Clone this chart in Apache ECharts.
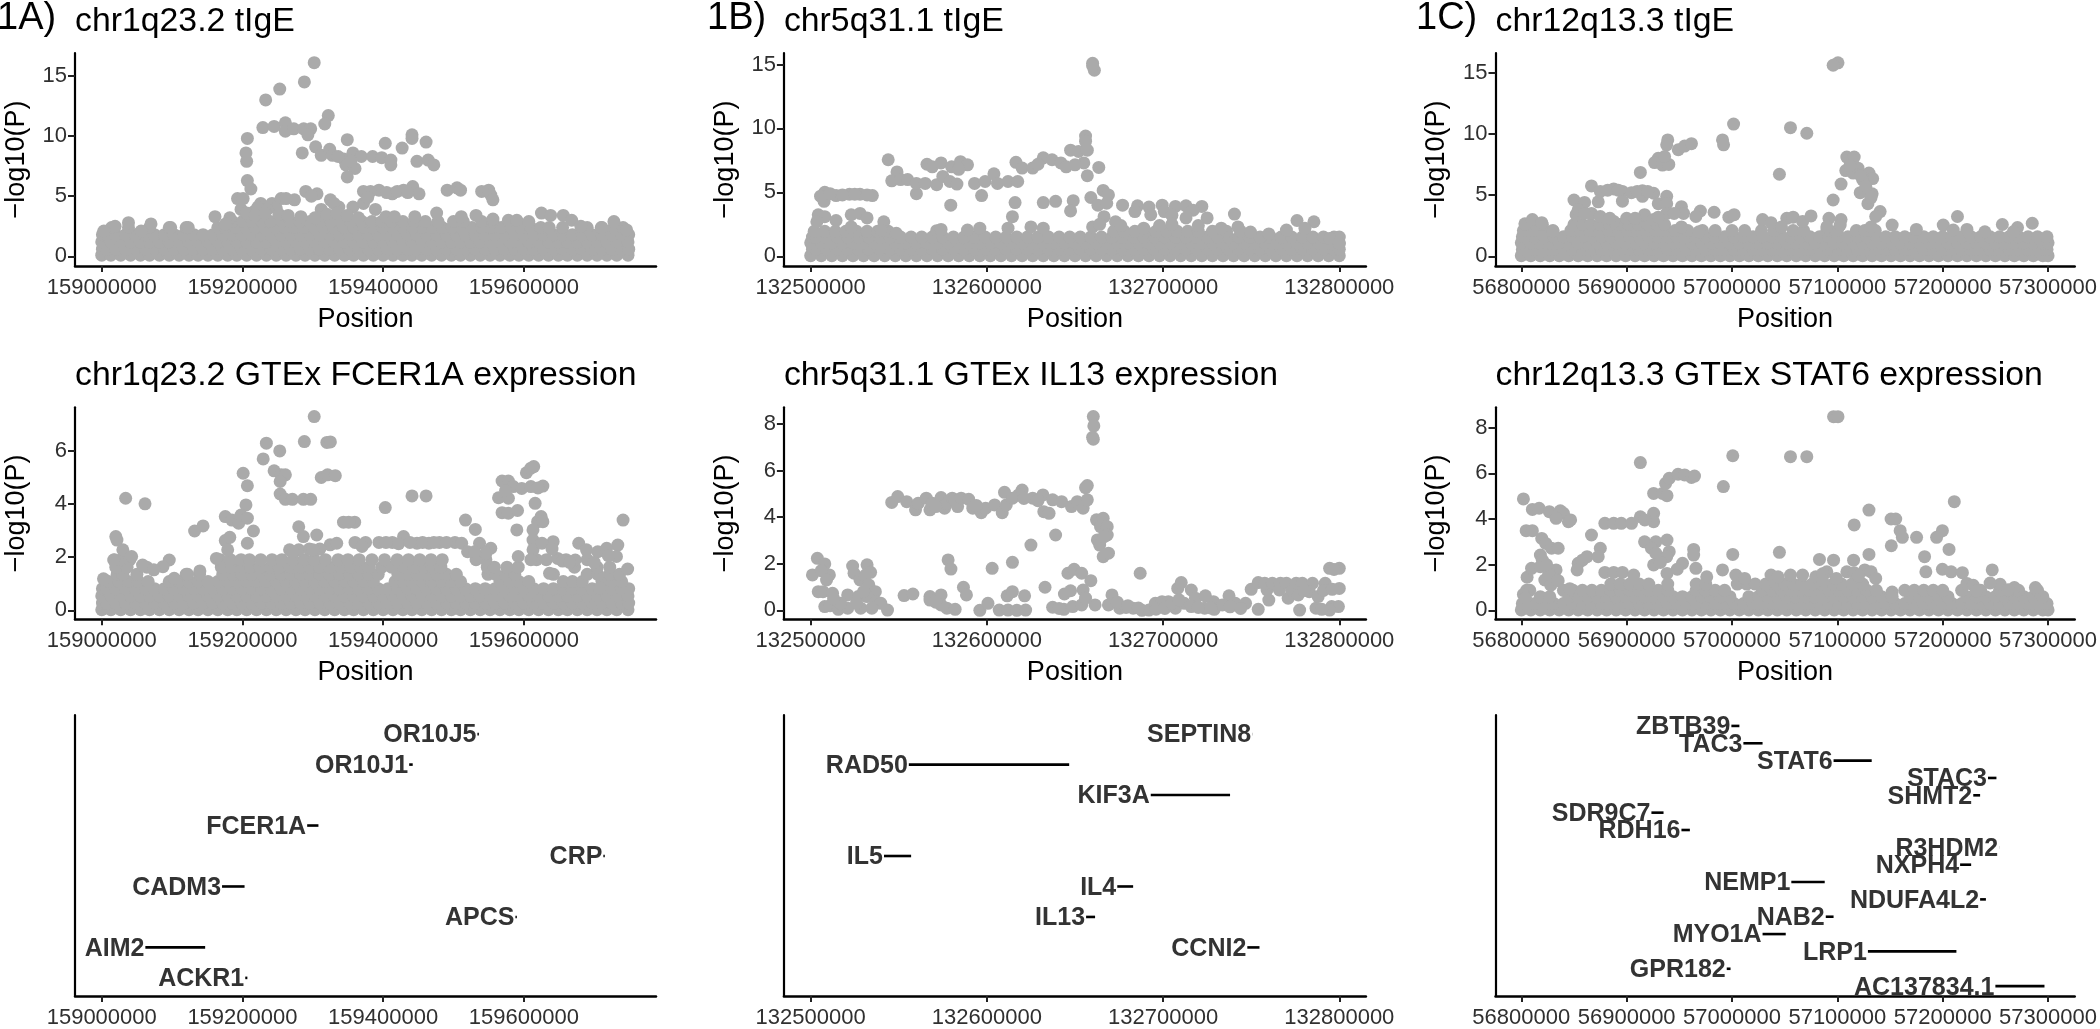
<!DOCTYPE html>
<html>
<head>
<meta charset="utf-8">
<script src="https://cdn.jsdelivr.net/npm/echarts@6/dist/echarts.min.js"></script>
<style>
html,body{margin:0;padding:0;background:#fff;overflow:hidden;}
#main{width:2100px;height:1029px;}
</style>
</head>
<body>
<div id="main"></div>
<script>
// positions are kb from the start of each window
var startA=159000, startB=132500, startC=56800;

var ticksA=[159000000,159200000,159400000,159600000];
var ticksB=[132500000,132600000,132700000,132800000];
var ticksC=[56800000,56900000,57000000,57100000,57200000,57300000];
var ticksY1A=[0,5,10,15], ticksY1B=[0,5,10,15], ticksY1C=[0,5,10,15];
var ticksY2A=[0,2,4,6], ticksY2B=[0,2,4,6,8], ticksY2C=[0,2,4,6,8];

var titles=["chr1q23.2 tIgE","chr5q31.1 tIgE","chr12q13.3 tIgE",
    "chr1q23.2 GTEx FCER1A expression","chr5q31.1 GTEx IL13 expression","chr12q13.3 GTEx STAT6 expression"];
var panelTags=["1A)","1B)","1C)"];

// the solid bands near zero, points there overlap too much to read one by one
var rowA1=[0,13,27,41,55,68,82,96,110,124,137,151,165,179,192,206,220,234,248,262,276,289,303,317,331,345,358,372,386,400,414,428,441,455,469,483,497,510,524,538,552,566,580,593,607,621,635,649,662,676,690,704,718,732,748];
var rowA2=[1,7,20,34,48,62,75,89,103,117,131,144,158,172,186,199,213,227,241,255,269,283,296,310,324,338,352,365,379,393,407,421,435,448,462,476,490,504,517,531,545,559,573,587,600,614,628,642,656,669,683,697,711,725,739,749];
var rowB1=[0,6,12,18,24,30,36,42,48,54,60,66,72,78,84,90,96,102,108,114,120,126,132,138,144,150,156,162,168,174,180,186,192,198,204,210,216,222,228,234,240,246,252,258,264,270,276,282,288,294,300];
var rowB2=[1,3,9,15,21,27,33,39,45,51,57,63,69,75,81,87,93,99,105,111,117,123,129,135,141,147,153,159,165,171,177,183,189,195,201,207,213,219,225,231,237,243,249,255,261,267,273,279,285,291,297,300];
var rowC1=[0,9,18,27,36,45,54,63,72,81,90,99,108,117,126,135,144,153,162,171,180,189,198,207,216,225,234,243,252,261,270,279,288,297,306,315,324,333,342,351,360,369,378,387,396,405,414,423,432,441,450,459,468,477,486,495,500];
var rowC2=[1,4,13,22,31,40,49,58,67,76,85,94,103,112,121,130,139,148,157,166,175,184,193,202,211,220,229,238,247,256,265,274,283,292,301,310,319,328,337,346,355,364,373,382,391,400,409,418,427,436,445,454,463,472,481,490,499];

var bandIgeA=[[0.1,rowA1],[0.6,rowA2],[1.2,rowA1],[1.8,rowA2],
    [2.4,[14,38,68,96,120,165,175,190,205,218,232,246,260,274,288,302,316,330,344,358,372,386,400,414,428,442,456,470,484,498,512,526,540,554,568,582,596,610,624,636,655,690,710,728,741]],
    [2.9,[186,200,214,228,240,256,268,282,296,310,326,340,354,370,384,398,412,428,444,460,478,500,514,540,556]]];
var bandIgeB=[[0.05,rowB1],[0.55,rowB2],[1.05,rowB1],[1.5,rowB2],
    [1.95,[2,8,14,20,26,32,38,44,172,178,184,190,196,202,208,214,220,228,236,244]]];
var bandIgeC=[[0.05,rowC1],[0.55,rowC2],[1.1,rowC1],[1.6,rowC2],
    [2.1,[2,12,22,30,47,56,65,74,83,92,101,110,119,128,137,146,158,172,184,200,212,228,240,258,268,290,300,318,326,336]],
    [2.6,[4,14,20,50,58,66,75,84,93,102,111,120,129,136]]];

var bandExprA=[[0.02,rowA1],[0.27,rowA2],[0.54,rowA1],[0.81,rowA2],
    [1.08,[10,24,38,52,66,96,110,124,137,151,165,179,192,206,220,234,248,262,276,289,303,317,331,345,358,372,386,417,428,441,455,469,483,497,510,566,580,593,607,656,669,683,711,725,739]],
    [1.35,[22,30,50,120,139,172,186,199,213,227,241,255,269,283,296,310,324,338,352,365,379,393,421,435,448,462,476,490,504,549,560,575,587,642,690,705,722,736]],
    [1.62,[20,36,64,170,185,200,212,225,240,252,268,282,296,310,324,340,354,368,380,398,412,430,444,458,470,482,548,558,576,592,672,704,722]],
    [1.9,[18,28,40,168,183,198,210,226,242,256,272,288,302,318,336,350,366,384,402,420,436,452,468,484,532,546,618,632,660,690]]];
var bandExprC=[[0.02,rowC1],[0.3,rowC2],
    [0.6,[18,27,45,54,63,72,81,90,99,108,117,126,135,144,153,162,171,180,189,198,216,225,234,243,252,261,270,279,288,297,306,315,324,333,342,351,369,378,387,396,405,423,432,441,450,459,468,477,486,495]],
    [0.88,[5,8,40,49,58,67,76,85,94,103,112,121,130,139,166,175,184,193,229,238,247,256,265,274,283,292,301,310,319,328,337,364,373,382,391,400,418,436,454,463,472,490]],
    [1.15,[85,94,103,112,121,139,166,175,205,214,222,232,242,250,258,266,276,286,296,304,314,324]]];

var igeA=[[302,16.1],[288,14.5],[253,13.9],[233,13],[322,11.7],[317,11],[229,10.7],[245,10.8],[261,11.1],[261,10.4],[273,10.6],[287,10.6],[297,10.6],[293,10.1],[207,9.8],[205,8.6],[206,7.9],[207,6.3],[212,5.6],
[349,9.7],[403,9.4],[427,9],[441,10.1],[441,9.8],[461,9.5],[285,8.6],[304,9.1],[312,8.4],[324,8.9],[328,8.4],[344,8.1],[357,8.6],[347,7.6],[360,7.3],[349,6.6],[369,8.3],[385,8.3],[398,8.2],[411,8],[411,7.6],[448,7.9],[464,8],[472,7.6],[336,8.3],[354,7.9],
[491,5.5],[505,5.7],[510,5.5],[540,5.4],[550,5.5],[553,5.1],[556,4.7],
[193,4.8],[201,4.8],[198,3.9],[226,4.4],[242,4.4],[255,4.8],[274,4.7],[290,5.4],[306,5.2],[325,4.7],[312,3.9],[337,4.1],[357,4.1],[372,4.4],[372,5.4],[394,5.5],[413,5.2],[429,5.5],[442,5.8],[451,5.2],[389,3.9],[262,4.8],[298,5],[330,4.4],[382,5.4],[405,5.3],[420,5.4],[435,5.3],[378,4.9],[248,4],[235,3.9],[216,3.7],[206,3.6],[252,3.5],[222,4.1],
[161,3.3],[182,3.2],[38,2.8],[19,2.5],[3,2.1],[70,2.7],[98,2.4],[123,2.4],[56,2.1],[176,2.7],
[218,3.4],[232,3.6],[265,3.4],[283,3.3],[303,3.2],[320,3.5],[334,3.6],[349,3.4],[365,3.2],[404,3.3],[416,3.3],[445,3.3],[476,3.6],[511,3.3],[532,3.4],[556,3.1],[578,3],[590,3],[607,2.9],[625,3.6],[638,3.4],[656,3.4],[668,3],[681,2.5],[728,2.9],[711,2.4],[746,2.2]];

var igeB=[[160,15.1],[161,14.55],[160,14.9],[156,9.4],[156,9],[147.5,8.3],[152,8.2],[157,8.3],
[44,7.55],[49,6.6],[46,5.9],[51,6],[55,6],[60,4.9],[60,5.7],[66,7.2],[69,7],[74,7.3],[65,5.7],[71.5,5.6],[75,6.25],[79,5.85],[83,5.65],[80,7],[85,7.4],[89,7.15],[84,6.8],[79.5,4],[93,5.7],[99,5.85],[104,6.45],[106,5.7],[112,5.85],[117.5,5.85],[116.5,7.35],[120,6.9],[126,6.9],[132,7.7],[137,7.55],[142,7.3],[145,7],[155,7.3],[150,7.15],[157,6.3],[163.5,6.95],[129,7.2],[97,4.75],[116,4.2],[132,4.2],[139,4.3],[149,4.35],[147.5,3.55],[114.5,3.1],
[159,4.6],[166,5.15],[169,4.8],[163,4],[168,4.15],[177,4],[185.5,3.95],[184,3.5],[192,3.85],[199.5,4],[200.7,3.5],[207,3.9],[213,3.95],[222,3.9],[225,3],[193,3.25],[240.5,3.3],[242.5,2.3],[166.5,3.1],[173,2.7],[160,2.3],[164,2.5],[217,3.6],[205,3.2],[213,3],
[8,5],[5.6,4.7],[7.6,4.3],[14.4,4.75],[22,4.85],[28,4.85],[35,4.75],[11,4.9],[18,4.8],[25,4.85],[32,4.8],
[4.3,3.25],[8,3.1],[3.5,2.7],[14.4,2.8],[23,3.25],[28,3.35],[32,3],[23,2.3],[41.5,2.7],[40,2.05],[48.6,1.8],[71.5,2],[74,2.1],[89,2.05],[96,2.2],[112,2.2],[125,2.3],[132,2.2],[233,2.2],[249.6,1.9],[260,1.75],[270,2.05],[276,2.8],[285.6,2.7],[280.5,2.2],[294.5,1.4],[300,1],[176,2.4],[189,2.2],[198,2.4],[205,2.5],[220,2.4]];

var igeC=[[300.6,15.8],[296,15.6],[201.5,10.8],[255.5,10.5],[271,10.05],[191,9.5],[192,9.1],[245,6.7],[113,6.85],
[139,9.5],[138,9.1],[149,8.7],[155,9],[161.5,9.2],[130,8],[126.5,7.65],[134,7.45],[140,7.5],[136,8.15],
[66.6,5.75],[50,4.6],[60,4.4],[73,4.45],[75,5.3],[87.7,5.5],[96,5.3],[104.5,5.2],[115,5.35],[125.6,5.15],[115,4.9],[96,4.5],[138,4.9],[130,4.3],[138,4.3],[82,5.4],[92,5.4],[110,5.3],[120,5.3],
[152,4.05],[154,3.5],[170,3.7],[165.7,3.25],[183,3.6],[197,3.2],[202,3.4],[229,3],[237,2.75],[252,3.1],[258,3.2],[267,2.85],[275,3.3],[247,2.4],[292,3.1],[303.5,3],[290,2.4],[302.7,2.55],
[296,4.6],[303.5,5.9],[308,7],[309,8.1],[316,8.1],[319.6,7.2],[315,6.8],[330,6.8],[333.5,6.35],[324,6.25],[321.7,5.2],[333,5.1],[329,4.3],[340.6,3.65],[336.4,3.25],[332,2.4],[352,2.55],[312,7.4],[322,6.6],[327,5.7],[332,4.8],
[400.5,2.55],[414,3.25],[375,2.2],[423,2.2],[440,2],[456.6,2.6],[471,2.35],[467,2],[485,2.7],[410,2.15],
[3.4,2.65],[10.5,3],[19.4,2.75],[30,2.05],[52,3.4],[54,3.8],[66.6,3.5],[75,3.25],[87.7,2.85],[100,3.1],[117,3.4],[138,3.5],[125.6,3],[152,2.4],[168.6,2],[60,3.5],[84,3.1],[108,3.1],[130,3.2],[145,3.5]];

var exprA=[[302,7.28],[288,6.34],[234,6.28],[253,5.99],[320,6.31],[325,6.33],[229.5,5.69],[245,5.24],[255,5.09],[261,5.09],[253.6,4.84],[201,5.15],[207,4.68],[312,4.99],[321,5.09],[332,5.06],[253.6,4.37],[261,4.17],[271,4.17],[286.6,4.17],[297,4.17],
[34,4.21],[61.5,4],[403,3.86],[441,4.3],[461,4.3],[205,3.96],[175.6,3.52],[185,3.39],[194.6,3.27],[198,3.58],[207,3.46],[215.6,2.98],[132,2.98],[144,3.17],
[280,3.14],[286.6,2.77],[305.6,2.83],[343.6,3.31],[359.5,3.31],[351,3.31],[324.6,2.46],[334,2.52],[175.6,2.62],[182,2.74],[179,2.27],[163,1.95],[207,2.52],
[20,2.77],[21.6,2.64],[17,1.89],[30,2.27],[42.5,2.02],[58,1.7],[96,1.89],[87,1.64],[74,1.52],[2.5,1.18],[103,1.2],[122,1.35],[139.5,1.48],
[517,3.39],[531,3.04],[569,4.86],[578,4.86],[564,4.23],[569,3.67],[578,3.65],[591,3.75],[590,3.02],[592,2.02],[578,4.21],[585,4.65],[597,4.58],[610,4.65],[627,4.67],[603.6,5.17],[610,5.34],[614,5.4],[616,4.02],[620,4.6],[574,4.5],
[624.5,3.52],[619.5,3.33],[627,3.33],[613,3.02],[613,2.64],[613,2.27],[641.6,2.58],[625.8,2.52],[678,2.52],[689,2.27],[705,2.2],[733.5,2.45],[717.7,2.33],[741,3.39],[731.6,2.02],[747.5,1.55],[636.5,1.39],[648,1.95],[673,1.89],[708,0.83],
[360,2.55],[375,2.55],[394,2.55],[413,2.55],[429,2.77],[448,2.52],[465,2.52],[480,2.55],[502,2.55],[511.6,2.52],[537,2.52],[553,2.33],[546,2.14],[370,2.4],[404,2.55],[422,2.5],[438,2.55],[456,2.55],[472,2.55],[490,2.55],
[267,2.27],[280,2.27],[295,2.3],[310,2.3],[272,2.2],[300,2.27],[520,2.2],[530,2.2],[610,1.9],[640,2.3],[655,1.85],[665,1.8],[700,1.8],[720,2.05]];

var exprB=[[160.4,8.31],[160.7,7.91],[160,7.42],[160.4,7.34],[157,5.35],[156,5.26],[110,5.06],[120,5.16],[118,4.95],
[46,4.63],[49.4,4.88],[54.5,4.66],[59.5,4.31],[61,4.59],[65.6,4.81],[67.7,4.31],[69,4.59],[74,4.84],[76,4.38],[77.3,4.59],[80.3,4.81],[83.4,4.45],[81.6,4.74],[85.4,4.81],[89.7,4.76],[92,4.38],[96.8,4.19],[99.3,4.38],[104.4,4.52],[108.7,4.19],[111,4.52],[114.5,4.81],[126,4.81],[131.8,4.95],[132.3,4.23],[135.3,4.16],[137.3,4.74],[142.4,4.66],[148,4.45],[151.3,4.66],[154.6,4.38],[157,4.74],[121,4.8],[129,4.7],[94,4.5],[71,4.45],
[162.2,3.88],[166,3.95],[164.5,3.59],[168.3,3.59],[162.7,3.02],[168.3,3.23],[164,2.8],[166,2.3],[169,2.45],[166.5,3.16],
[139,3.23],[125,2.8],[114.5,2.06],[103,1.8],[78,2.16],[79.6,1.77],
[3.8,2.23],[8,1.99],[1,1.52],[10.6,1.52],[4.3,0.8],[6,1.7],[9,1.3],[7,0.8],[12.4,0.73],[8,0.16],[11,0.2],[15.7,0.04],[23.8,1.9],[32,1.95],[24.6,1.59],[34,1.63],[28,1.3],[31,1.5],[33,1.09],[36.7,0.8],[21,0.66],[27,0.59],[32,0.59],[37,0.37],[43.6,0.01],[39.8,0.3],[21,0.09],[28.4,0.09],[34.7,0.09],[30,0.8],[26,0.3],[17,0.3],[13,0.5],
[53,0.63],[58,0.7],[67.7,0.59],[74,0.66],[67.7,0.44],[77.3,0.09],[82,0.04],[74,0.23],[71,0.35],
[86.7,0.99],[88.4,0.66],[96,0],[100.6,0.3],[107,0.01],[112,0.01],[111.5,0.62],[114.5,0.8],[121.4,0.62],[117,0],[122,0.01],
[133,0.99],[137.3,0.13],[143.7,0.04],[144,0.7],[147.5,0.84],[146,1.59],[149.5,1.76],[153.8,1.59],[159,1.27],[154.6,0.87],[148.7,0.16],[153.8,0.23],[161.4,0.23],[156,0.52],[141,0.08],
[171,0.66],[169,0.23],[175.4,0.09],[179,0.12],[183,0.09],[187,1.59],[188,0],[192,0.01],[195.6,0.3],[199.4,0.37],[203,0.37],[207,0.09],[208.3,0.94],[210.3,1.19],[216,0.87],[218.4,0.52],[224,0.62],[228.6,0.37],[212,0.3],[216,0.16],[223.6,0.09],[229,0.04],[237.4,0.62],[233.6,0.23],[241,0.3],[246.8,0.3],[254,0.04],[174,0.35],[180,0.2],[186,0.1],[196,0.05],[201,0.08],[205,0.3],[209,0.45],[220,0.12],[227,0.1],[238,0.15],[244,0.08],
[250,0.9],[254,1.19],[260,0.44],[259,0.87],[257.7,1.16],[262,1.16],[266.6,1.16],[271,0.52],[266,0.87],[270,1.16],[273,0.85],[277.5,0.01],[276.7,0.66],[275.5,1.16],[279,1.16],[286.8,0.09],[284.8,1.16],[292,1.16],[283,0.8],[294.5,1.8],[300,1.8],[297,1.75],[300,0.94],[295.7,0.16],[299.5,0.16],[294.5,0.01],[290,0.04],[288,0.59],[291,0.85],[296,0.9],[280,0.85]];

var exprC=[[296.4,8.48],[300.6,8.48],[200.7,6.77],[255.5,6.73],[271,6.73],[113,6.47],[191.8,5.42],[2,4.88],[411,4.76],[330,4.39],[316,3.74],[351,4],[355.4,4],
[10.5,4.42],[16.9,4.47],[26.6,4.32],[37,4.36],[40,4.25],[33,4.03],[44.7,3.88],[46.8,3.96],[4.6,3.49],[10.5,3.49],[19.4,3.15],[23.2,2.93],[28.7,2.72],[35,2.72],
[66.6,3.3],[75,2.72],[79.3,3.81],[87.7,3.81],[94.9,3.81],[104.6,3.81],[113,4.1],[125.6,4.25],[125.6,3.88],[117.2,3.96],
[125.6,5.12],[134,5.12],[138.3,5.02],[137,5.56],[140.4,5.78],[148.8,5.96],[155,5.93],[161.5,5.82],[164.4,5.88],
[117,3],[127.7,3],[138.3,3.08],[123.5,2.72],[140.4,2.57],[127.7,2.5],[163.6,2.67],[163.6,2.42],[200.7,2.45],[245,2.54],[283,2.23],[296.4,2.2],[315.4,2.2],[330,2.45],[351.2,2.83],[359.6,3.49],[361.7,3.2],[375.2,3.2],[382.8,2.35],[384,1.69],[394.2,3.2],[399.7,3.49],[406,2.67],[399.7,1.8],[447,1.77],[454.5,1.14],
[18.1,2.42],[20,2.2],[54,2.06],[58,2.2],[62.4,2.35],[73,2.35],[53,1.77],[5.5,1.45],[9.7,1.84],[18,1.91],[33,1.77],[30.8,1.4],[22.3,1.33],[125.6,1.99],[138,2.35],[153,2.06],[165.7,1.84],[176,1.47],[191,1.77],[138.3,1.62],[132,2.1],[148,1.8],[26,1.6],[24,2],[28,1.1],[35,1.3],
[79.3,1.66],[87.7,1.66],[96,1.66],[106.7,1.55],[203.6,1.55],[212,1.4],[237,1.55],[243.7,1.47],[255.5,1.55],[267,1.55],[279.5,1.47],[290,1.69],[299,1.4],[309,1.69],[326,1.77],[332,1.69],[336.4,1.4],[408,1.69],[418.7,1.65],[423,1.18],[429,1.1],[286,1.6],[316,1.65],[320,1.5],
[2,0.7],[4,0.55],[352,0.8],[46,0.95],[286,1.3],[352,0.6],[468,1],[488,1],[432,0.85],[445,1.2],[462,0.9]];

// gene tracks: name, start, end, row
var genesA=[["OR10J5",534,536,9],["OR10J1",437,442,8],["FCER1A",292,308,6],["CRP",713,715,5],["CADM3",171,203,4],["APCS",588,590,3],["AIM2",62,147,2],["ACKR1",204,207,1]];
var genesB=[["SEPTIN8",250.6,250.7,9],["RAD50",55.7,146.7,8],["KIF3A",193,238,7],["IL5",41.6,57,5],["IL4",174,183,4],["IL13",156.3,161.4,3],["CCNI2",247.8,254.7,2]];
var genesC=[["ZBTB39",199.4,207,16],["TAC3",210.8,229,15],["STAT6",296.4,332.6,14],["STAC3",443,451,13],["SHMT2",429,435.5,12],["SDR9C7",123.5,135,11],["RDH16",152,160,10],["R3HDM2",453.6,453.7,9],["NXPH4",416.5,427,8],["NEMP1",256.3,288,7],["NDUFA4L2",435.5,441,6],["NAB2",289,296.4,5],["MYO1A",229,251,4],["LRP1",329,413,3],["GPR182",195,198.6,2],["AC137834.1",450,496.6,1]];

var regular='"Liberation Sans",sans-serif';
var grey="#aaaaaa";
var tickColor="#303030";

var colLeft=[75,783.9,1495.5], colWidth=[581,582,582];
var xRange=[[-38,787.8],[-15.2,315.1],[-24.5,525.3]];
var starts=[startA,startB,startC];
var xTicks=[ticksA,ticksB,ticksC];
var rowTop=[53,407.3,715], rowHeight=[213,212,284];

function buildPoints(start,pts,bands){
    var out=[];
    for(var i=0;i<bands.length;i++){
        for(var j=0;j<bands[i][1].length;j++){
            out.push([(start+bands[i][1][j])*1000,bands[i][0]]);
        }
    }
    for(var k=0;k<pts.length;k++){
        out.push([(start+pts[k][0])*1000,pts[k][1]]);
    }
    return out;
}

function xAxisFor(index,col,row,showName){
    return {
        type:'value',gridIndex:index,
        min:(starts[col]+xRange[col][0])*1000,
        max:(starts[col]+xRange[col][1])*1000,
        splitLine:{show:false},
        name:showName?'Position':'',
        nameLocation:'middle',nameGap:showName?40:0,
        nameTextStyle:{fontFamily:regular,fontSize:27,color:'#000'},
        axisLine:{show:true,onZero:false,lineStyle:{color:'#000',width:2.5}},
        axisTick:{show:true,length:6,lineStyle:{color:'#222',width:2},customValues:xTicks[col]},
        axisLabel:{show:true,margin:11,fontFamily:regular,fontSize:22,color:tickColor,
            customValues:xTicks[col],hideOverlap:false,showMinLabel:true,showMaxLabel:true,
            formatter:function(v){return String(v);}}
    };
}

function yAxisFor(index,min,max,ticks){
    var a={
        type:'value',gridIndex:index,min:min,max:max,
        splitLine:{show:false},
        axisLine:{show:true,onZero:false,lineStyle:{color:'#000',width:2.2}}
    };
    if(ticks){
        a.name='\u2212log10(P)';
        a.nameLocation='middle';
        a.nameGap=45;
        a.nameTextStyle={fontFamily:regular,fontSize:27,color:'#000'};
        a.axisTick={show:true,length:7,lineStyle:{color:'#222',width:2},customValues:ticks};
        a.axisLabel={show:true,margin:8,fontFamily:regular,fontSize:22,color:tickColor,customValues:ticks,showMinLabel:true,showMaxLabel:true};
    }else{
        a.axisTick={show:false};
        a.axisLabel={show:false};
    }
    return a;
}

function scatterFor(index,data){
    return {
        type:'scatter',xAxisIndex:index,yAxisIndex:index,
        symbol:'circle',symbolSize:13,
        itemStyle:{color:grey,opacity:1},
        data:data,silent:true,large:false,progressive:0
    };
}

function geneSeries(index,start,genes){
    var rows=[];
    for(var i=0;i<genes.length;i++){
        rows.push([(start+genes[i][1])*1000,(start+genes[i][2])*1000,genes[i][3],genes[i][0]]);
    }
    return {
        type:'custom',xAxisIndex:index,yAxisIndex:index,silent:true,
        data:rows,
        encode:{x:[0,1],y:2},
        renderItem:function(params,api){
            var a=api.coord([api.value(0),api.value(2)]);
            var b=api.coord([api.value(1),api.value(2)]);
            return {
                type:'group',
                children:[
                    {type:'line',shape:{x1:a[0],y1:a[1],x2:b[0],y2:b[1]},style:{stroke:'#000',lineWidth:2.6}},
                    {type:'text',style:{x:a[0]-1,y:a[1]+1.5,text:api.value(3),align:'right',verticalAlign:'middle',
                        fontFamily:regular,fontWeight:'bold',fontSize:25,fill:'#333'}}
                ]
            };
        }
    };
}

var chart=echarts.init(document.getElementById("main"),null,{renderer:'canvas'});

var grids=[],xAxes=[],yAxes=[];
for(var r=0;r<3;r++){
    for(var c=0;c<3;c++){
        grids.push({left:colLeft[c],top:rowTop[r],width:colWidth[c],height:rowHeight[r],containLabel:false});
        xAxes.push(xAxisFor(r*3+c,c,r,r<2));
    }
}
yAxes.push(yAxisFor(0,-0.8,16.9,ticksY1A));
yAxes.push(yAxisFor(1,-0.76,15.9,ticksY1B));
yAxes.push(yAxisFor(2,-0.79,16.6,ticksY1C));
yAxes.push(yAxisFor(3,-0.34,7.63,ticksY2A));
yAxes.push(yAxisFor(4,-0.386,8.71,ticksY2B));
yAxes.push(yAxisFor(5,-0.39,8.89,ticksY2C));
yAxes.push(yAxisFor(6,0.406,9.627,null));
yAxes.push(yAxisFor(7,0.406,9.627,null));
yAxes.push(yAxisFor(8,0.43,16.63,null));

var titleList=[];
for(var t=0;t<6;t++){
    titleList.push({text:titles[t],left:colLeft[t%3],top:t<3?5:359,padding:0,
        textStyle:{fontFamily:regular,fontWeight:'normal',fontSize:33.8,color:'#000'}});
}
var tagLeft=[-3,707,1416];
for(var p=0;p<3;p++){
    titleList.push({text:panelTags[p],left:tagLeft[p],top:0,padding:0,
        textStyle:{fontFamily:regular,fontWeight:'normal',fontSize:38,color:'#000'}});
}

chart.setOption({
    animation:false,
    backgroundColor:'#fff',
    title:titleList,
    grid:grids,
    xAxis:xAxes,
    yAxis:yAxes,
    series:[
        scatterFor(0,buildPoints(startA,igeA,bandIgeA)),
        scatterFor(1,buildPoints(startB,igeB,bandIgeB)),
        scatterFor(2,buildPoints(startC,igeC,bandIgeC)),
        scatterFor(3,buildPoints(startA,exprA,bandExprA)),
        scatterFor(4,buildPoints(startB,exprB,[])),
        scatterFor(5,buildPoints(startC,exprC,bandExprC)),
        geneSeries(6,startA,genesA),
        geneSeries(7,startB,genesB),
        geneSeries(8,startC,genesC)
    ]
});
</script>
</body>
</html>
